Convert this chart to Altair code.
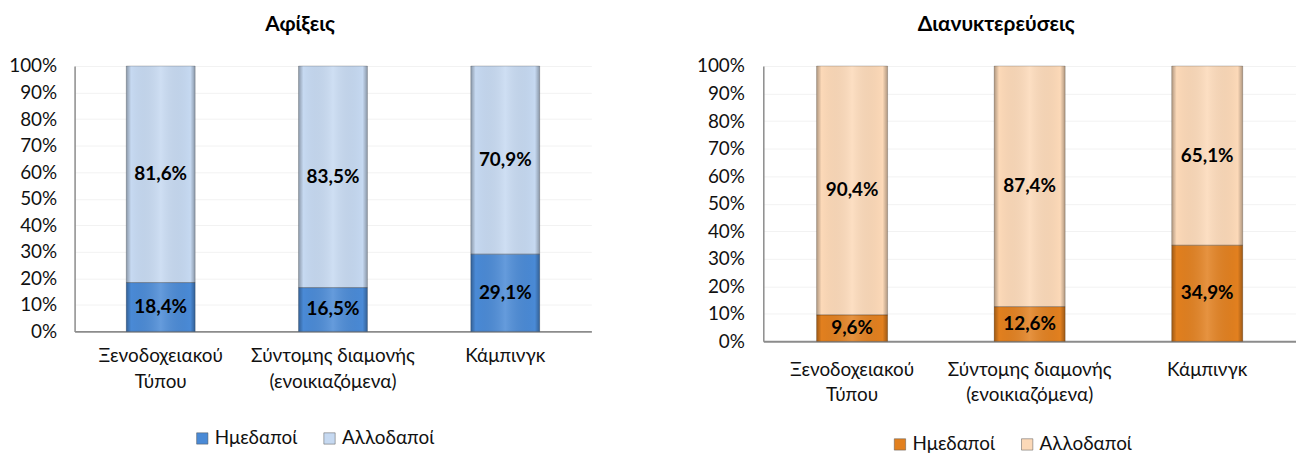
import altair as alt
import pandas as pd

categories = ["Ξενοδοχειακού|Τύπου", "Σύντομης διαμονής|(ενοικιαζόμενα)", "Κάμπινγκ"]
series = ["Ημεδαποί", "Αλλοδαποί"]
arrivals_dom = [18.4, 16.5, 29.1]
arrivals_for = [81.6, 83.5, 70.9]
nights_dom = [9.6, 12.6, 34.9]
nights_for = [90.4, 87.4, 65.1]
y_ticks = [0, 10, 20, 30, 40, 50, 60, 70, 80, 90, 100]

FONT = "Lato, Noto Sans, sans-serif"


def make_df(dom, forn):
    rows = []
    for c, d, f in zip(categories, dom, forn):
        rows.append({"cat": c, "series": series[0], "ord": 0, "v": d})
        rows.append({"cat": c, "series": series[1], "ord": 1, "v": f})
    return pd.DataFrame(rows)


def panel(df, title, colors, w, h, legend_x, legend_y, xpad, ypad):
    xaxis = alt.Axis(labelAngle=0, labelExpr="split(datum.label, '|')",
                     labelFontSize=19, labelFont=FONT, labelColor="#111",
                     labelPadding=xpad, labelBaseline="top", labelLineHeight=26,
                     ticks=False, domainColor="#8c8c8c", domainWidth=2, grid=False)
    xscale = alt.Scale(paddingInner=0.6, paddingOuter=0.3)
    x = alt.X("cat:N", sort=categories, title=None, scale=xscale, axis=xaxis)
    yscale = alt.Scale(domain=[0, 100], nice=False, zero=True)
    yaxis = alt.Axis(values=y_ticks, labelExpr="datum.value + '%'",
                     labelFontSize=19, labelFont=FONT, labelColor="#111",
                     labelOverlap=False, labelBound=False, labelFlush=False,
                     labelPadding=ypad, ticks=False, domainColor="#8c8c8c",
                     domainWidth=1.5, grid=True, gridColor="#f2f2f2")
    y = alt.Y("v:Q", stack="zero", title=None, scale=yscale, axis=yaxis)
    base = alt.Chart(df)
    bars = base.mark_bar(strokeWidth=0).encode(
        x=x, y=y,
        color=alt.Color("series:N", sort=series,
                        scale=alt.Scale(domain=series, range=colors),
                        legend=alt.Legend(title=None, orient="none", direction="horizontal",
                                          legendX=legend_x, legendY=legend_y,
                                          labelFontSize=19, labelFont=FONT, labelColor="#111",
                                          symbolType="square", symbolSize=130,
                                          symbolStrokeColor="#555", symbolStrokeWidth=0.5,
                                          labelOffset=3, columnPadding=22)),
        order=alt.Order("ord:Q"),
    )
    shade = base.mark_bar(
        fill=alt.Gradient(gradient="linear", x1=0, x2=1, y1=0, y2=0,
                          stops=[alt.GradientStop(color="rgba(0,0,0,0.30)", offset=0),
                                 alt.GradientStop(color="rgba(0,0,0,0.0)", offset=0.07),
                                 alt.GradientStop(color="rgba(255,255,255,0.15)", offset=0.5),
                                 alt.GradientStop(color="rgba(0,0,0,0.0)", offset=0.93),
                                 alt.GradientStop(color="rgba(0,0,0,0.30)", offset=1)]),
        stroke="rgba(0,0,0,0.25)", strokeWidth=0.8,
    ).encode(x=x, y=y, detail="series:N", order=alt.Order("ord:Q"))
    text = base.transform_stack(
        stack="v", as_=["v0", "v1"], groupby=["cat"], sort=[alt.SortField("ord")]
    ).transform_calculate(
        mid="(datum.v0 + datum.v1) / 2",
        lab="replace(format(datum.v, '.1f'), '.', ',') + '%'",
    ).mark_text(fontSize=19, fontWeight="bold", font=FONT, color="#000").encode(
        x=x,
        y=alt.Y("mid:Q", title=None, scale=yscale, axis=yaxis),
        text="lab:N",
    )
    return alt.layer(bars, shade, text).properties(
        width=w, height=h,
        title=alt.TitleParams(title, fontSize=21, fontWeight="bold", font=FONT,
                              color="#000", offset=22, anchor="middle", frame="bounds"),
    )


left = panel(make_df(arrivals_dom, arrivals_for), "Αφίξεις",
             ["#4a8ad6", "#c6d9f1"], 520, 267, 119, 365, 15, 18)
right = panel(make_df(nights_dom, nights_for), "Διανυκτερεύσεις",
              ["#e2801f", "#fcd9b8"], 536, 277, 128, 371, 19, 19)

chart = alt.hconcat(left, right, spacing=105).resolve_scale(
    color="independent", x="independent", y="independent"
).properties(padding={"top": 5, "left": 0, "right": 0, "bottom": 0}).configure_view(stroke=None)

chart.save("out.html", embed_options={"renderer": "svg", "actions": False})
